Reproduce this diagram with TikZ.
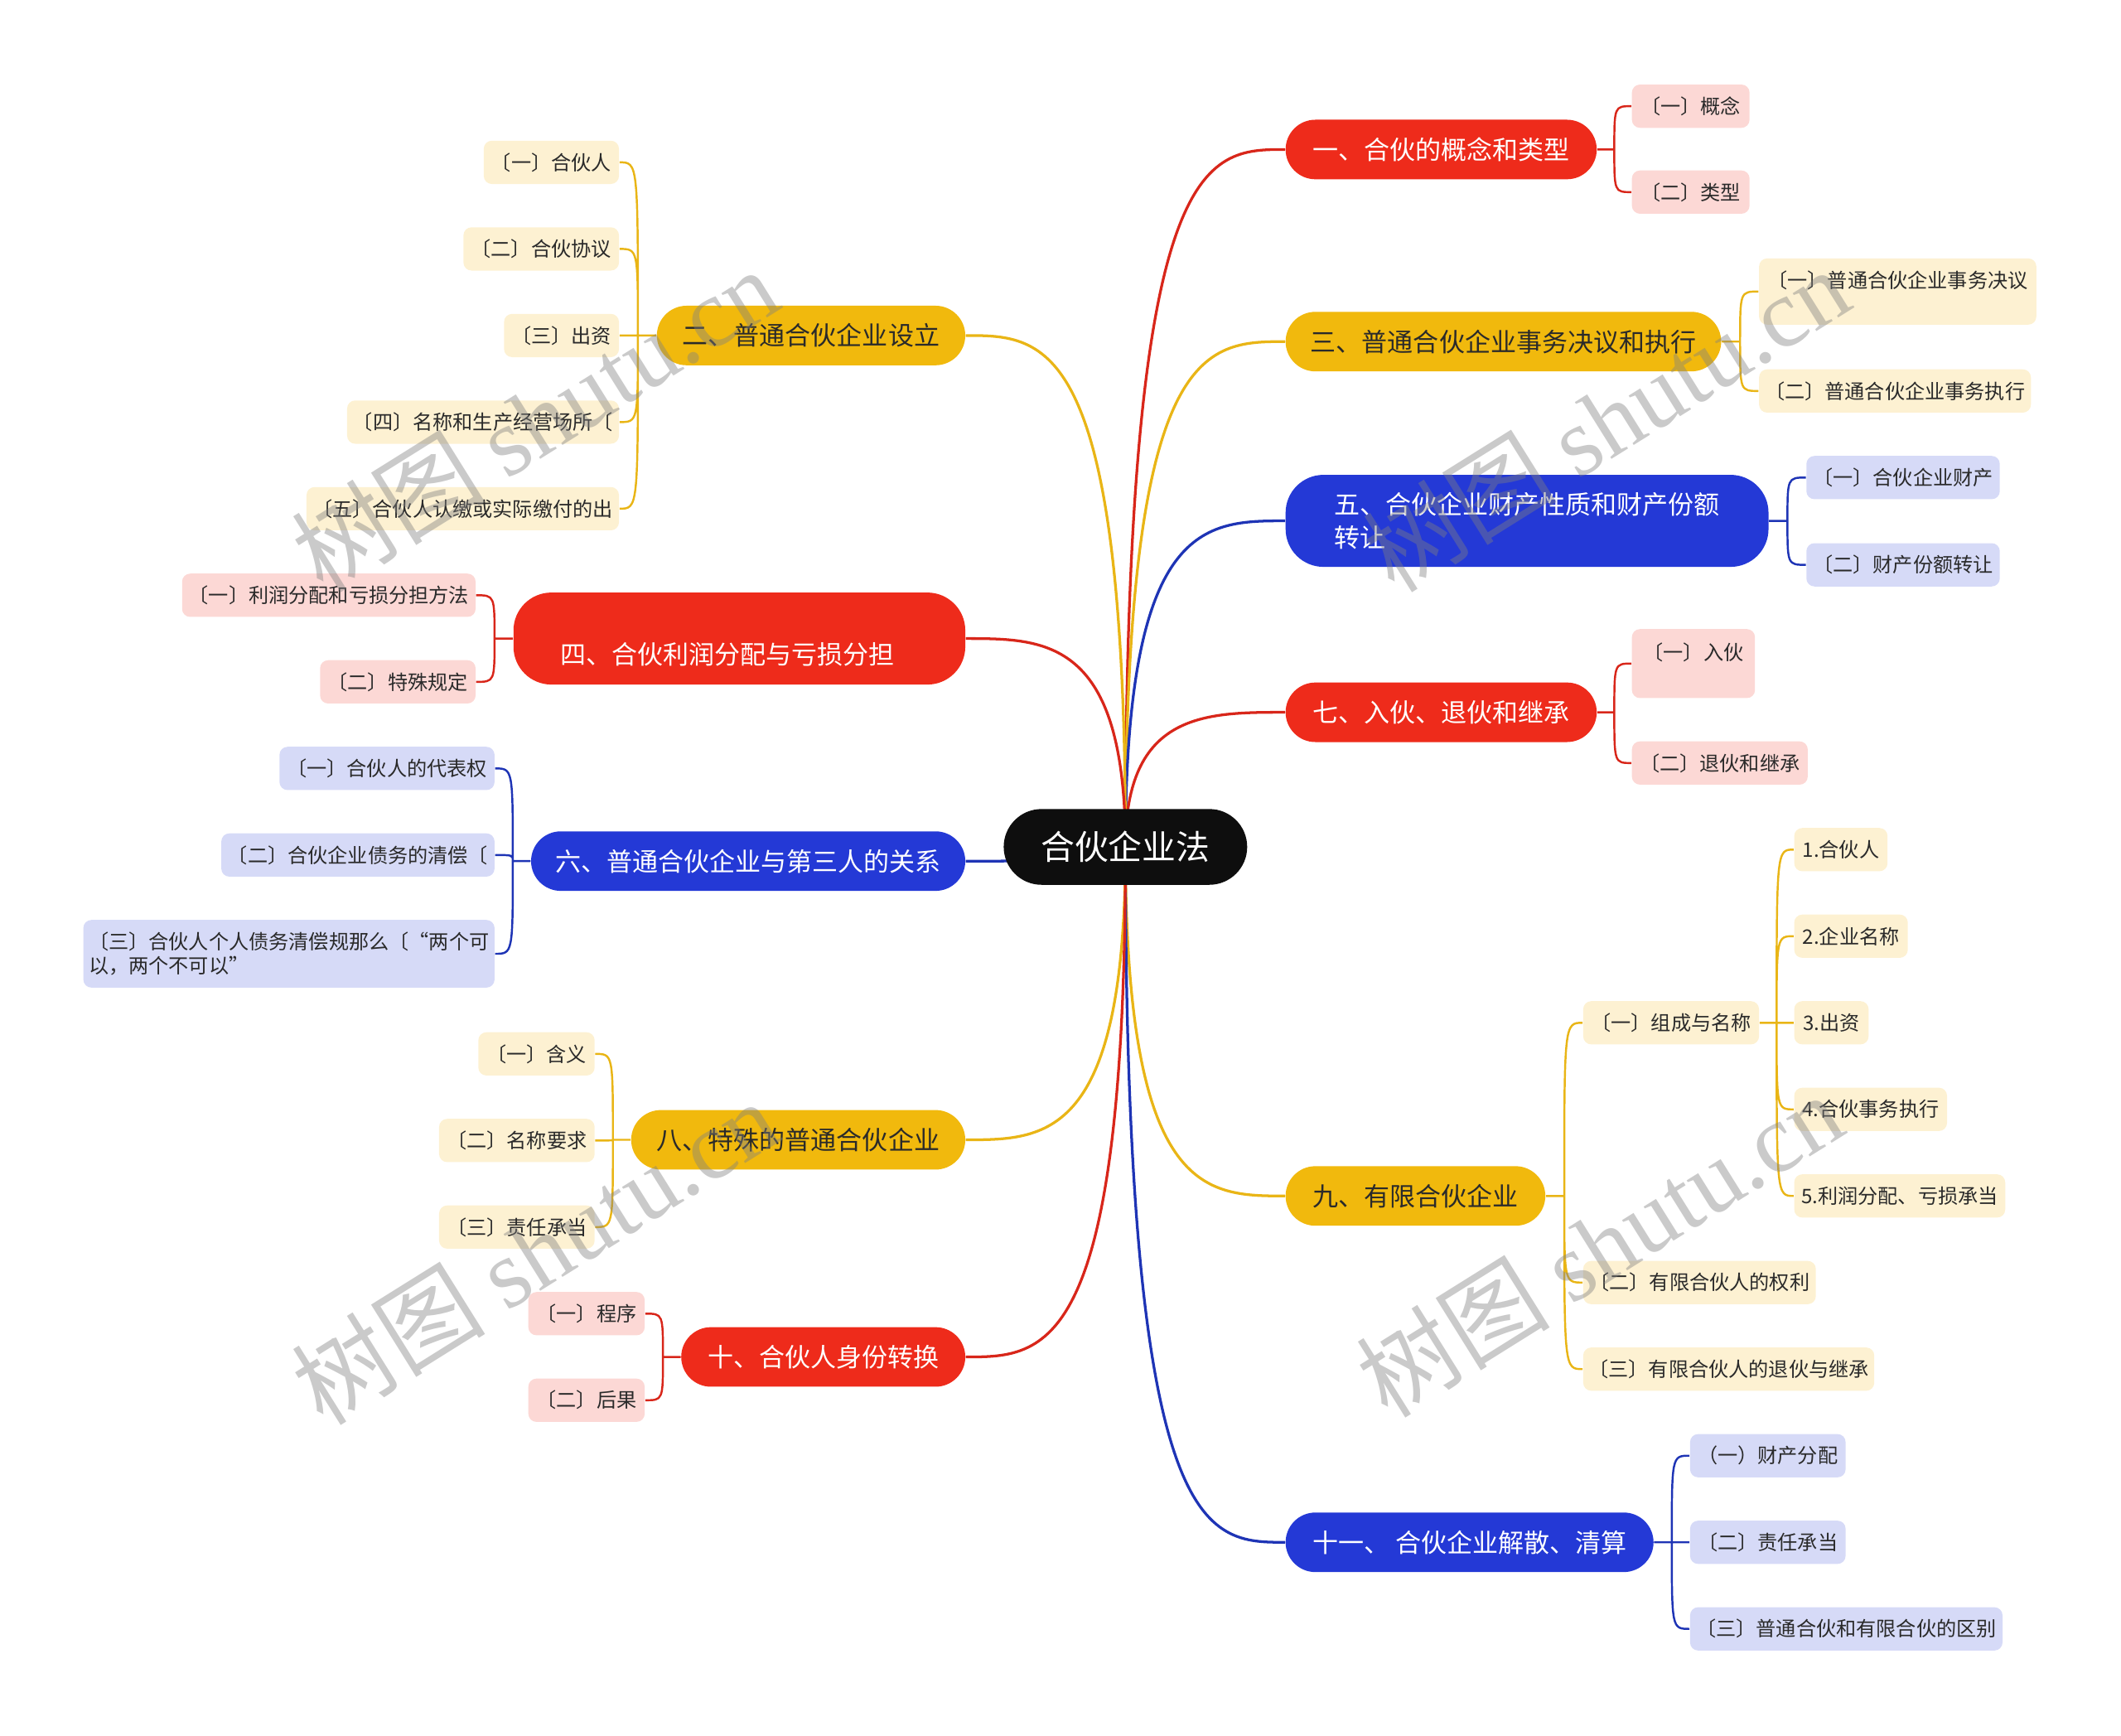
\documentclass[tikz,border=0pt]{standalone}
\usepackage{fontspec}
\setmainfont{Noto Sans CJK SC}
\newfontfamily\wmfont{Liberation Serif}
\usepackage{tikz}
\usetikzlibrary{positioning,calc,backgrounds}

\definecolor{rootblk}{HTML}{0E0E0E}
\definecolor{mred}{HTML}{EE2B1B}
\definecolor{myel}{HTML}{F1B90D}
\definecolor{mblue}{HTML}{2439D6}
\definecolor{lred}{HTML}{D8261A}
\definecolor{lyel}{HTML}{E9B516}
\definecolor{lblue}{HTML}{1E34B5}
\definecolor{spink}{HTML}{FCD8D5}
\definecolor{scream}{HTML}{FDF1D2}
\definecolor{slav}{HTML}{D6DAF7}
\definecolor{deeptext}{HTML}{2A2A2A}

\begin{document}
\begin{tikzpicture}[
    x=0.5pt, y=-0.5pt,
    root/.style={fill=rootblk, text=white, rounded corners=14pt,
                 minimum width=90pt, minimum height=28pt, inner sep=0pt,
                 font=\fontsize{12.5}{15}\selectfont},
    topic/.style={rounded corners=11pt, minimum height=22pt, inner sep=0pt,
                  font=\fontsize{9.5}{12.5}\selectfont},
    redtopic/.style={topic, fill=mred, text=white},
    yeltopic/.style={topic, fill=myel, text=deeptext},
    bluetopic/.style={topic, fill=mblue, text=white},
    leaf/.style={rounded corners=3pt, minimum height=16pt, inner xsep=2pt,
                 inner ysep=0pt, text=deeptext, font=\fontsize{7.4}{9}\selectfont},
    redleaf/.style={leaf, fill=spink},
    yelleaf/.style={leaf, fill=scream},
    blueleaf/.style={leaf, fill=slav},
    link/.style={line width=1pt, to path={.. controls (\tikztostart |- \tikztotarget)
                 and ($(\tikztostart |- \tikztotarget)!.5!(\tikztotarget)$) .. (\tikztotarget)}},
    twig/.style={line width=0.75pt, to path={.. controls (\tikztostart |- \tikztotarget) .. (\tikztotarget)}},
    wmark/.style={text=gray, opacity=0.42, rotate=32, font=\fontsize{36}{40}\selectfont},
  ]
  \useasboundingbox (0,0) rectangle (1568,1283);

  % Root
  \node[root] (root) at (832,626) {合伙企业法};

  % Right topics
  \node[redtopic, minimum width=115pt, anchor=west] (n1) at (950,110.5) {一、合伙的概念和类型};
  \node[yeltopic, minimum width=161pt, anchor=west] (n3) at (950,252.5) {三、普通合伙企业事务决议和执行};
  \node[bluetopic, minimum width=178.5pt, minimum height=34pt, rounded corners=14pt,
        align=left, anchor=west] (n5) at (950,385) {五、合伙企业财产性质和财产份额\\转让};
  \node[redtopic, minimum width=115pt, anchor=west] (n7) at (950,526.5) {七、入伙、退伙和继承};
  \node[yeltopic, minimum width=96pt, anchor=west] (n9) at (950,884) {九、有限合伙企业};
  \node[bluetopic, minimum width=136pt, anchor=west] (n11) at (950,1140) {十一、 合伙企业解散、清算};

  % Left topics
  \node[yeltopic, minimum width=114pt, anchor=east] (n2) at (714,248) {二、普通合伙企业设立};
  \node[redtopic, minimum width=167pt, minimum height=34pt, rounded corners=14pt,
        text width=132.5pt, align=left, text height=26.5pt, text depth=7.5pt,
        anchor=east] (n4) at (714,472) {四、合伙利润分配与亏损分担};
  \node[bluetopic, minimum width=160.5pt, anchor=east] (n6) at (714,636.5) {六、普通合伙企业与第三人的关系};
  \node[yeltopic, minimum width=123.5pt, anchor=east] (n8) at (714,842.5) {八、特殊的普通合伙企业};
  \node[redtopic, minimum width=105pt, anchor=east] (n10) at (714,1003) {十、合伙人身份转换};

  % Right leaves
  \node[redleaf, minimum width=43.5pt, anchor=west] (c11) at (1206,78.5) {〔一〕概念};
  \node[redleaf, minimum width=43.5pt, anchor=west] (c12) at (1206,142) {〔二〕类型};
  \node[yelleaf, minimum width=102.5pt, minimum height=24.5pt, text height=10.8pt,
        text depth=13.7pt, anchor=west] (c31) at (1300,215.5) {〔一〕普通合伙企业事务决议};
  \node[yelleaf, minimum width=100.5pt, anchor=west] (c32) at (1300,289) {〔二〕普通合伙企业事务执行};
  \node[blueleaf, minimum width=71.5pt, anchor=west] (c51) at (1335,353) {〔一〕合伙企业财产};
  \node[blueleaf, minimum width=71.5pt, anchor=west] (c52) at (1335,417.5) {〔二〕财产份额转让};
  \node[redleaf, minimum width=45.5pt, minimum height=25.5pt, text height=11.3pt,
        text depth=14.2pt, anchor=west] (c71) at (1206,490.5) {〔一〕入伙};
  \node[redleaf, minimum width=65pt, anchor=west] (c72) at (1206,564) {〔二〕退伙和继承};
  \node[yelleaf, minimum width=65pt, anchor=west] (c91) at (1170,756) {〔一〕组成与名称};
  \node[yelleaf, minimum width=86pt, anchor=west] (c92) at (1170,948) {〔二〕有限合伙人的权利};
  \node[yelleaf, minimum width=107.5pt, anchor=west] (c93) at (1170,1012) {〔三〕有限合伙人的退伙与继承};
  \node[yelleaf, minimum width=34.5pt, anchor=west] (g1) at (1326,628) {1.合伙人};
  \node[yelleaf, minimum width=42pt, anchor=west] (g2) at (1326,692) {2.企业名称};
  \node[yelleaf, minimum width=27.5pt, anchor=west] (g3) at (1326,756) {3.出资};
  \node[yelleaf, minimum width=56.5pt, anchor=west] (g4) at (1326,820) {4.合伙事务执行};
  \node[yelleaf, minimum width=78pt, anchor=west] (g5) at (1326,884) {5.利润分配、亏损承当};
  \node[blueleaf, minimum width=57.5pt, anchor=west] (c111) at (1249,1076) {（一）财产分配};
  \node[blueleaf, minimum width=57.5pt, anchor=west] (c112) at (1249,1140) {〔二〕责任承当};
  \node[blueleaf, minimum width=115.5pt, anchor=west] (c113) at (1249,1204) {〔三〕普通合伙和有限合伙的区别};

  % Left leaves
  \node[yelleaf, minimum width=50pt, anchor=east] (d21) at (458,120) {〔一〕合伙人};
  \node[yelleaf, minimum width=57.5pt, anchor=east] (d22) at (458,184) {〔二〕合伙协议};
  \node[yelleaf, minimum width=42.5pt, anchor=east] (d23) at (458,248) {〔三〕出资};
  \node[yelleaf, minimum width=100.5pt, anchor=east] (d24) at (458,312) {〔四〕名称和生产经营场所〔};
  \node[yelleaf, minimum width=115.5pt, anchor=east] (d25) at (458,376) {〔五〕合伙人认缴或实际缴付的出};
  \node[redleaf, minimum width=108.5pt, anchor=east] (d41) at (352,440) {〔一〕利润分配和亏损分担方法};
  \node[redleaf, minimum width=57.5pt, anchor=east] (d42) at (352,504) {〔二〕特殊规定};
  \node[blueleaf, minimum width=79.5pt, anchor=east] (d61) at (366,568) {〔一〕合伙人的代表权};
  \node[blueleaf, minimum width=101pt, anchor=east] (d62) at (366,632) {〔二〕合伙企业债务的清偿〔};
  \node[blueleaf, minimum width=152pt, minimum height=25pt, align=left, anchor=east,
        font=\fontsize{7.4}{9}\selectfont] (d63) at (366,705) {〔三〕合伙人个人债务清偿规那么〔“两个可\\以，两个不可以”};
  \node[yelleaf, minimum width=43pt, anchor=east] (d81) at (440,779) {〔一〕含义};
  \node[yelleaf, minimum width=57.5pt, anchor=east] (d82) at (440,843) {〔二〕名称要求};
  \node[yelleaf, minimum width=57.5pt, anchor=east] (d83) at (440,907) {〔三〕责任承当};
  \node[redleaf, minimum width=43pt, anchor=east] (d101) at (477,971) {〔一〕程序};
  \node[redleaf, minimum width=43pt, anchor=east] (d102) at (477,1035) {〔二〕后果};

  % Spines
  \coordinate (s1) at ($(n1.east)!.5!(n1.east -| c11.west)$);
  \coordinate (s3) at ($(n3.east)!.5!(n3.east -| c31.west)$);
  \coordinate (s5) at ($(n5.east)!.5!(n5.east -| c51.west)$);
  \coordinate (s7) at ($(n7.east)!.5!(n7.east -| c71.west)$);
  \coordinate (s9) at ($(n9.east)!.5!(n9.east -| c91.west)$);
  \coordinate (s91) at ($(c91.east)!.5!(c91.east -| g1.west)$);
  \coordinate (s11) at ($(n11.east)!.5!(n11.east -| c111.west)$);
  \coordinate (s2) at ($(n2.west)!.5!(n2.west -| d21.east)$);
  \coordinate (s4) at ($(n4.west)!.5!(n4.west -| d41.east)$);
  \coordinate (s6) at ($(n6.west)!.5!(n6.west -| d61.east)$);
  \coordinate (s8) at ($(n8.west)!.5!(n8.west -| d81.east)$);
  \coordinate (s10) at ($(n10.west)!.5!(n10.west -| d101.east)$);

  \begin{scope}[on background layer]
    % Root links
    \draw[link, lred] (root.center) to (n1.west);
    \draw[link, lyel] (root.center) to (n3.west);
    \draw[link, lblue] (root.center) to (n5.west);
    \draw[link, lred] (root.center) to (n7.west);
    \draw[link, lyel] (root.center) to (n9.west);
    \draw[link, lblue] (root.center) to (n11.west);
    \draw[link, lyel] (root.center) to (n2.east);
    \draw[link, lred] (root.center) to (n4.east);
    \draw[link, lblue] (root.center) to (n6.east);
    \draw[link, lyel] (root.center) to (n8.east);
    \draw[link, lred] (root.center) to (n10.east);

    % Leaf links
    \draw[twig, lred] (n1.east) -- (s1) to (c11.west) (s1) to (c12.west);
    \draw[twig, lyel] (n3.east) -- (s3) to (c31.west) (s3) to (c32.west);
    \draw[twig, lblue] (n5.east) -- (s5) to (c51.west) (s5) to (c52.west);
    \draw[twig, lred] (n7.east) -- (s7) to (c71.west) (s7) to (c72.west);
    \draw[twig, lyel] (n9.east) -- (s9) to (c91.west) (s9) to (c92.west) (s9) to (c93.west);
    \draw[twig, lyel] (c91.east) -- (s91) to (g1.west) (s91) to (g2.west) (s91) to (g3.west)
                      (s91) to (g4.west) (s91) to (g5.west);
    \draw[twig, lblue] (n11.east) -- (s11) to (c111.west) (s11) to (c112.west) (s11) to (c113.west);
    \draw[twig, lyel] (n2.west) -- (s2) to (d21.east) (s2) to (d22.east) (s2) to (d23.east)
                      (s2) to (d24.east) (s2) to (d25.east);
    \draw[twig, lred] (n4.west) -- (s4) to (d41.east) (s4) to (d42.east);
    \draw[twig, lblue] (n6.west) -- (s6) to (d61.east) (s6) to (d62.east) (s6) to (d63.east);
    \draw[twig, lyel] (n8.west) -- (s8) to (d81.east) (s8) to (d82.east) (s8) to (d83.east);
    \draw[twig, lred] (n10.west) -- (s10) to (d101.east) (s10) to (d102.east);
  \end{scope}

  % Watermarks
  \node[wmark] (wm1) at (395,310) {树图 {\wmfont shutu.cn}};
  \node[wmark] (wm2) at (1187,310) {树图 {\wmfont shutu.cn}};
  \node[wmark] (wm3) at (395,925) {树图 {\wmfont shutu.cn}};
  \node[wmark] (wm4) at (1182,920) {树图 {\wmfont shutu.cn}};
\end{tikzpicture}
\end{document}
